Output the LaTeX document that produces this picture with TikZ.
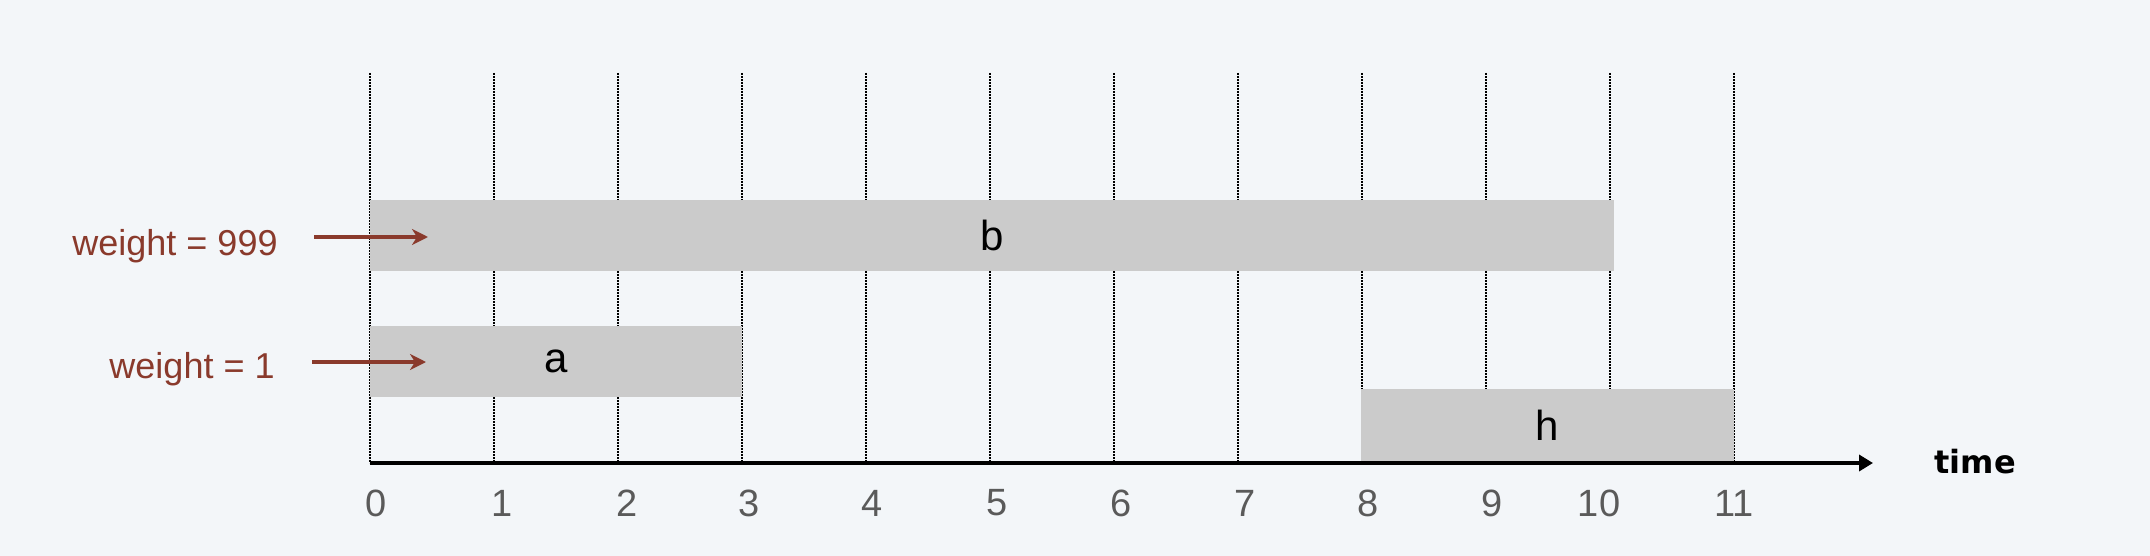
\documentclass[tikz,border=0pt]{standalone}
\usepackage{fontspec}
\setmainfont{Liberation Sans}
\newfontfamily\timefont{DejaVu Sans}
\usetikzlibrary{arrows.meta}
\definecolor{bg}{HTML}{F3F6F9}
\definecolor{barfill}{HTML}{CBCBCB}
\definecolor{wred}{HTML}{8A3A2C}
\definecolor{ticktext}{HTML}{5A5A5A}
\begin{document}
\begin{tikzpicture}[x=0.5pt,y=-0.5pt,
  gridline/.style={draw=black,line width=0.85pt,dash pattern=on 0.8pt off 0.7pt},
  barbox/.style={fill=barfill,draw=none,inner sep=0pt,text=black,font=\fontsize{21}{25}\selectfont},
  ticklabel/.style={text=ticktext,font=\fontsize{19}{23}\selectfont,inner sep=0pt},
  weightlabel/.style={text=wred,font=\fontsize{18}{22}\selectfont,inner sep=0pt},
  warrow/.style={draw=wred,line width=1.6pt,-{Stealth[length=8pt,width=8pt,inset=2.5pt]}},
  axisline/.style={draw=black,line width=2.4pt,-{Triangle[length=7pt,width=8pt]}}]
\fill[bg] (0,0) rectangle (2150,556);
\useasboundingbox (0,0) rectangle (2150,556);
% grid lines
\foreach \i in {0,...,11}{
  \draw[gridline] ({370+124*\i},73) -- ({370+124*\i},463);
}
% bars
\node[barbox,minimum width=622pt,minimum height=35.5pt] (b) at (992,235.5) {b};
\node[barbox,minimum width=186pt,minimum height=35.5pt] (a) at (556,361.5) {a};
\node[barbox,minimum width=186.5pt,minimum height=36.5pt] (h) at (1547.5,425.5) {h};
% axis
\coordinate (axisstart) at (370,463);
\coordinate (axisend) at (1873,463);
\draw[axisline] (axisstart) -- (axisend);
\node[font=\timefont\bfseries\fontsize{16}{19}\selectfont,anchor=base west,inner sep=0pt] (time) at (1934,473) {time};
% tick labels
\foreach \lab/\xx in {0/376,1/502,2/627,3/749,4/872,5/997,6/1121,7/1245,8/1368,9/1492,10/1599,11/1734}{
  \node[ticklabel] (t\lab) at (\xx,503) {\lab};
}
% weight labels
\node[weightlabel,anchor=base east] (w999) at (278,255) {weight = 999};
\node[weightlabel,anchor=base east] (w1) at (275,378) {weight = 1};
\coordinate (w999tail) at (314,237);
\coordinate (w999tip) at (428,237);
\coordinate (w1tail) at (312,362);
\coordinate (w1tip) at (426,362);
\draw[warrow] (w999tail) -- (w999tip);
\draw[warrow] (w1tail) -- (w1tip);
\end{tikzpicture}
\end{document}
